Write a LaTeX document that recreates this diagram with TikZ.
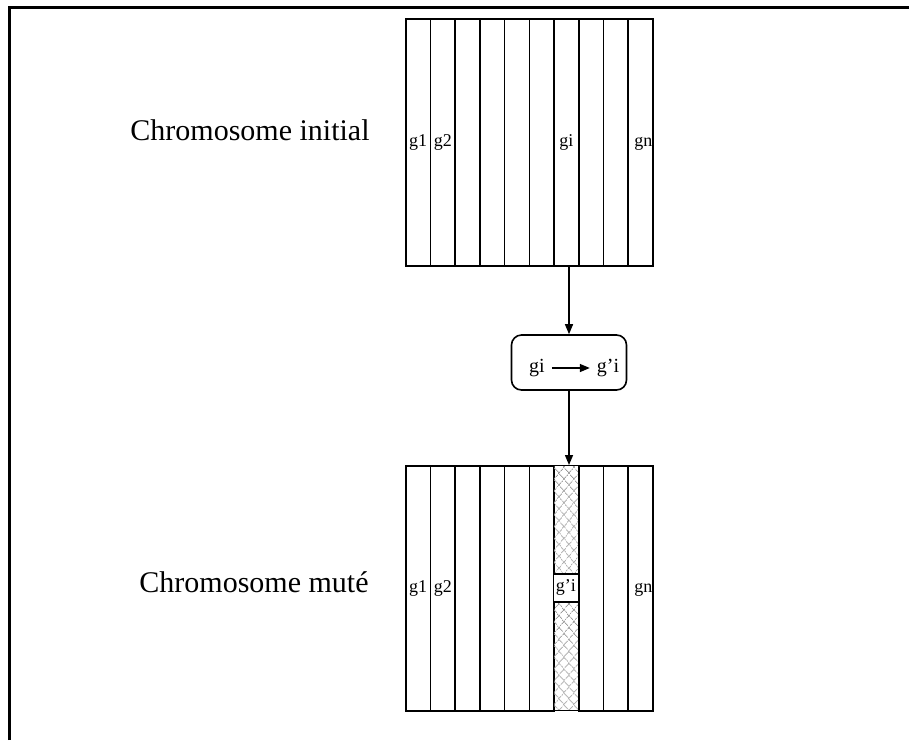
\documentclass[tikz,border=0pt]{standalone}
\usepackage{fontspec}
\setmainfont{Liberation Serif}
\usetikzlibrary{arrows.meta,positioning,patterns.meta}
\tikzset{
    genelabel/.style={
        font=\fontsize{9}{10}\selectfont,
        text height=6pt,
        text depth=2pt
    },
    gene/.style={
        draw,
        genelabel,
        line width=0.8pt,
        anchor=north west,
        inner sep=0pt,
        minimum width=12.35pt,
        minimum height=123.5pt
    },
    % colonne du gene mute
    hatched/.style={
        preaction={pattern={Lines[angle=-50, distance=4pt, line width=0.4pt]}, pattern color=gray!80},
        pattern={Lines[angle=50, distance=4pt, line width=0.4pt]},
        pattern color=gray!80
    },
    mutbox/.style={
        draw,
        line width=0.8pt,
        rounded corners=5pt,
        minimum width=57.5pt,
        minimum height=27.5pt
    },
    flow/.style={
        line width=0.7pt,
        -{Triangle[length=5pt, width=4pt]}
    },
    title/.style={font=\fontsize{15}{17}\selectfont}
}
\begin{document}
\begin{tikzpicture}[x=0.5pt, y=-0.5pt]
   \useasboundingbox (0,0) rectangle (909,740);
   \draw[line width=1.5pt] (9.5,740) -- (9.5,7) -- (909,7);
    \node[title] (lblinit) at (250,130) {Chromosome initial};
    \node[title] (lblmut) at (254,582) {Chromosome muté};
   % chromosome initial
   \foreach \k/\txt in {1/g1,2/g2,3/,4/,5/,6/,7/gi,8/,9/,10/}
     \node[gene] (top\k) at ({405+(\k-1)*24.7},18) {\txt};
   \node[genelabel, xshift=1.5pt] at (top10.center) {gn};
   % chromosome mute
   \foreach \k in {1,2,3,4,5,6,8,9,10}
     \node[gene, minimum height=122.5pt] (bot\k) at ({405+(\k-1)*24.7},465) {};
   \node[gene, minimum height=122.5pt, hatched] (bot7) at ({405+6*24.7},465) {};
   \node[gene, minimum height=14pt, fill=white, anchor=center] (newgene) at (bot7.center) {g'i};
   \foreach \k/\txt in {1/g1,2/g2}
     \node[genelabel] at (bot\k.center) {\txt};
   \node[genelabel, xshift=1.5pt] at (bot10.center) {gn};
   % operateur de mutation
    \node[mutbox] (mut) at (569,362.5) {};
    \node (src) at (537,368) {\fontsize{10}{11}\selectfont gi};
    \node (dst) at (608,368) {\fontsize{10}{11}\selectfont g'i};
     \draw[flow] (src) -- (dst);
     \draw[flow] (mut.north |- top7.south) -- (mut.north);
     \draw[flow] (mut.south) -- (mut.south |- bot7.north);
\end{tikzpicture}
\end{document}
